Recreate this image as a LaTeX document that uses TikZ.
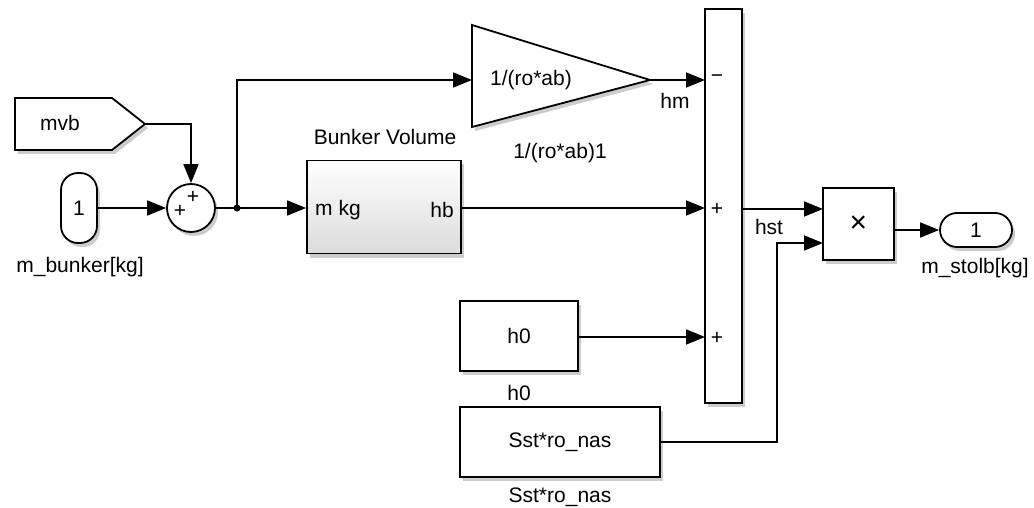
\documentclass[tikz,border=0pt]{standalone}
\usepackage{fontspec}
\setmainfont{Liberation Sans}
\usetikzlibrary{arrows.meta,shadows}
\begin{document}
\begin{tikzpicture}[x=1pt,y=-1pt,
  every node/.style={font=\fontsize{21}{24}\selectfont, inner sep=0pt},
  ln/.style={line width=1.8pt, draw=black},
  arr/.style={ln, -{Triangle[length=19pt,width=15pt]}},
  shd/.style={drop shadow={shadow xshift=3pt, shadow yshift=-4pt, fill=black, opacity=0.2}},
  blk/.style={draw, line width=1.8pt, fill=white, shd},
  sgn/.style={font=\fontsize{21}{24}\selectfont},
  lbl/.style={font=\fontsize{21}{24}\selectfont}
]
\useasboundingbox (0,0) rectangle (1034,508);

% mvb tag
\path[draw, line width=1.8pt, fill=white, shd] (15,98) -- (112,98) -- (145,124) -- (112,150) -- (15,150) -- cycle;
\node (mvb) at (60,123) {mvb};
\coordinate (mvbtip) at (145,124);

% inport 1
\node[blk, rounded corners=17pt, minimum width=36pt, minimum height=70pt] (in1) at (79,208) {1};
\node[lbl] (in1lbl) at (80,267) {m\_bunker[kg]};

% sum 1
\node[blk, circle, minimum size=48pt] (sum1) at (191,208) {};
\node[sgn] (s1a) at (180,211) {+};
\node[sgn] (s1b) at (193,197) {+};

% junction
\coordinate (jn) at (237,208);
\fill (jn) circle (3.5pt);

% Bunker Volume
\node[draw, line width=1.8pt, top color=white, bottom color=black!14, shd, minimum width=154pt, minimum height=93pt] (bv) at (384,207) {};
\node[lbl] (bvlbl) at (385,137) {Bunker Volume};
\node (bvin) at (338,210) {m kg};
\node (bvout) at (442,210) {hb};

% gain
\path[draw, line width=1.8pt, fill=white, shd] (472,25) -- (650,80) -- (472,127) -- cycle;
\coordinate (gin) at (472,80);
\coordinate (gout) at (650,80);
\node (gtxt) at (531,80) {1/(ro*ab)};
\node[lbl] (glbl) at (560,153) {1/(ro*ab)1};
\node (hm) at (675,101) {hm};

% sum 2
\node[blk, minimum width=37pt, minimum height=394pt] (sum2) at (723.5,206) {};
\coordinate (s2i1) at (705,80);
\coordinate (s2i2) at (705,208);
\coordinate (s2i3) at (705,337);
\node[sgn] (m1) at (717,79) {\textminus};
\node[sgn] (p2) at (717,209) {+};
\node[sgn] (p3) at (717,338) {+};

% h0
\node[blk, minimum width=118pt, minimum height=70pt] (h0) at (519,336) {h0};
\node[lbl] (h0lbl) at (519,393) {h0};

% Sst block
\node[blk, minimum width=200pt, minimum height=70pt] (sst) at (560,442) {Sst*ro\_nas};
\node[lbl] (sstlbl) at (560,497) {Sst*ro\_nas};

% product
\node[blk, minimum width=71pt, minimum height=72pt] (prod) at (858.5,224) {\fontsize{30}{30}\selectfont ×};
\coordinate (pi1) at (823,209);
\coordinate (pi2) at (823,243);
\node (hst) at (769,227) {hst};

% outport
\node[blk, rounded corners=17pt, minimum width=72pt, minimum height=34pt] (out1) at (976,230) {1};
\node[lbl] (outlbl) at (975,268) {m\_stolb[kg]};

% connectors
\draw[arr] (mvbtip) -| (sum1.north);
\draw[arr] (in1.east) -- (sum1.west);
\draw[arr] (sum1.east) -- (bv.west |- sum1.east);
\draw[arr] (jn) |- (gin);
\draw[arr] (gout) -- (s2i1);
\draw[arr] (bv.east |- s2i2) -- (s2i2);
\draw[arr] (h0.east |- s2i3) -- (s2i3);
\draw[arr] (sum2.east |- pi1) -- (pi1);
\draw[arr] (sst.east) -| (777,243) -- (pi2);
\draw[arr] (prod.east |- out1.west) -- (out1.west);
\end{tikzpicture}
\end{document}
